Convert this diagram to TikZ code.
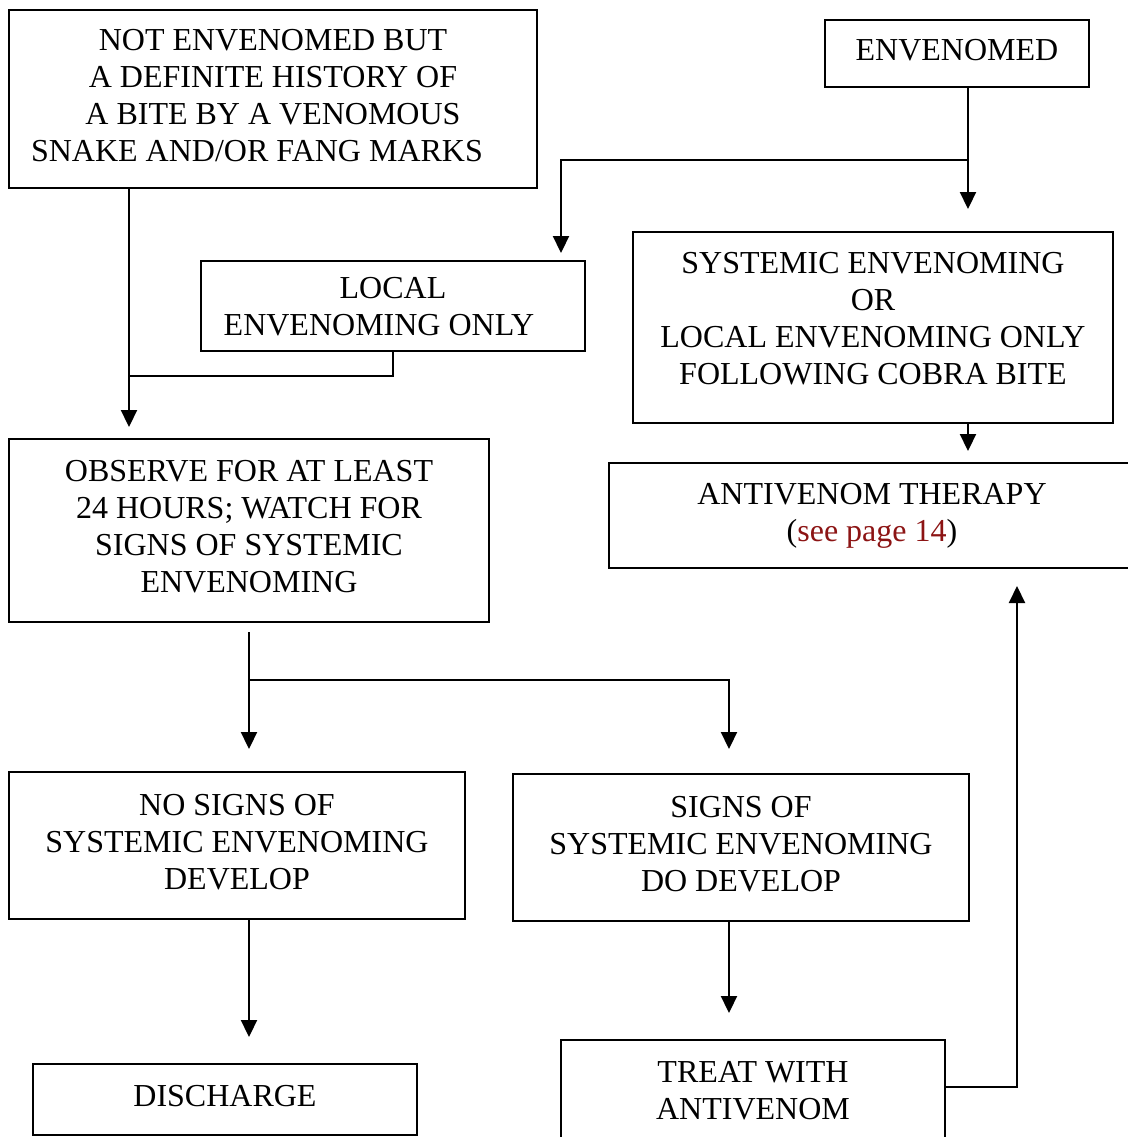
\documentclass[tikz,border=0pt]{standalone}
\usepackage{fontspec}
\setmainfont{Liberation Serif}
\usepackage{xcolor}
\usetikzlibrary{arrows.meta}
\definecolor{linkred}{RGB}{140, 20, 20}

\begin{document}
\begin{tikzpicture}[x=0.5pt, y=-0.5pt,
    box/.style={draw, line width=1pt, inner sep=0pt, align=center, text depth=4pt,
        font=\fontsize{16}{18.5}\selectfont},
    arr/.style={-{Triangle[width=8pt,length=8.5pt]}, line width=1.1pt},
    link/.style={line width=1.1pt}]
    % Page frame (the right and bottom boxes run off the page)
    \useasboundingbox (0,0) rectangle (1128,1137);
    \clip (0,0) rectangle (1128,1137);

    % Boxes
    \node[box, minimum width=264pt, minimum height=89pt] (notenv) at (273,99)
        {NOT ENVENOMED BUT\\A DEFINITE HISTORY OF\\A BITE BY A VENOMOUS\\SNAKE AND/OR FANG MARKS\hspace*{16pt}};
    \node[box, minimum width=132pt, minimum height=33.5pt] (envd) at (957,53.5) {ENVENOMED};
    \node[box, minimum width=192pt, minimum height=45pt, text depth=0pt] (local) at (393,306)
        {LOCAL\\ENVENOMING ONLY\hspace*{14pt}};
    \node[box, minimum width=240pt, minimum height=95.5pt, text depth=9pt] (systemic) at (873,327.5)
        {SYSTEMIC ENVENOMING\\OR\\LOCAL ENVENOMING ONLY\\FOLLOWING COBRA BITE};
    \node[box, minimum width=263pt, minimum height=52.5pt, text depth={}] (antiv) at (872,515.5)
        {ANTIVENOM THERAPY\\(\textcolor{linkred}{see page 14})};
    \node[box, minimum width=240pt, minimum height=91.5pt] (observe) at (249,530.5)
        {OBSERVE FOR AT LEAST\\24 HOURS; WATCH FOR\\SIGNS OF SYSTEMIC\\ENVENOMING};
    \node[box, minimum width=228pt, minimum height=73.5pt] (nosigns) at (237,845.5)
        {NO SIGNS OF\\SYSTEMIC ENVENOMING\\DEVELOP};
    \node[box, minimum width=228pt, minimum height=73.5pt] (signs) at (741,847.5)
        {SIGNS OF\\SYSTEMIC ENVENOMING\\DO DEVELOP};
    \node[box, minimum width=192pt, minimum height=35.5pt] (discharge) at (225,1099.5) {DISCHARGE};
    \node[box, minimum width=192pt, minimum height=54pt] (treat) at (753,1094)
        {TREAT WITH\\ANTIVENOM};

    % Bends of the connectors
    \coordinate (jl) at (129,376);
    \coordinate (je) at (968,160);
    \coordinate (jf) at (561,160);
    \coordinate (jo) at (249,680);
    \coordinate (jg) at (729,680);
    \coordinate (jt) at (1017,1087);

    % Left trunk
    \draw[arr, shorten >=5.5pt] (notenv.south -| jl) -- (observe.north -| jl);
    \draw[link] (local.south) -- (local.south |- jl) -- (jl);

    % Envenomed split
    \draw[arr, shorten >=11pt] (envd.south -| je) -- (systemic.north -| je);
    \draw[arr, shorten >=3.5pt] (je) -- (jf) -- (local.north -| jf);
    \draw[arr, shorten >=5.5pt] (systemic.south -| je) -- (antiv.north -| je);

    % Observe split
    \draw[arr, shorten <=4.5pt, shorten >=11pt] (observe.south) -- (nosigns.north -| jo);
    \draw[arr, shorten >=12pt] (jo) -- (jg) -- (signs.north -| jg);

    % Lower arrows
    \draw[arr, shorten >=13pt] (nosigns.south -| jo) -- (discharge.north -| jo);
    \draw[arr, shorten >=13pt] (signs.south -| jg) -- (treat.north -| jg);
    \draw[arr, shorten >=8.5pt] (treat.east |- jt) -- (jt) -- (antiv.south -| jt);
\end{tikzpicture}
\end{document}
